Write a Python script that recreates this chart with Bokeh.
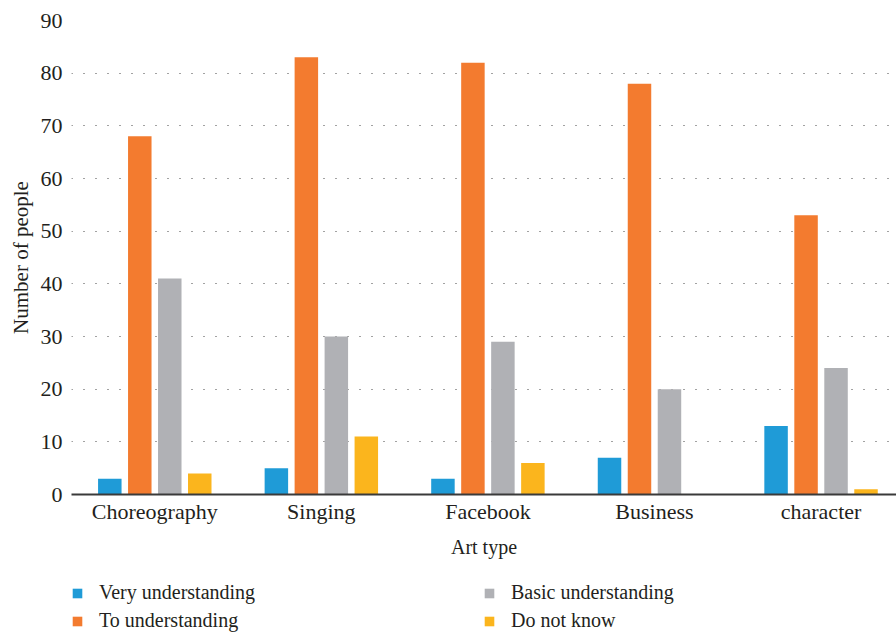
from bokeh.plotting import figure
from bokeh.layouts import column
from bokeh.models import Range1d, FixedTicker, Legend, LegendItem
from bokeh.embed import file_html
from bokeh.resources import INLINE

categories = ["Choreography", "Singing", "Facebook", "Business", "character"]
very_understanding = [3, 5, 3, 7, 13]
to_understanding = [68, 83, 82, 78, 53]
basic_understanding = [41, 30, 29, 20, 24]
do_not_know = [4, 11, 6, 0, 1]

series_names = ["Very understanding", "To understanding", "Basic understanding", "Do not know"]
series_values = [very_understanding, to_understanding, basic_understanding, do_not_know]
colors = ["#1f9bd7", "#f37b2f", "#b0b1b5", "#fbb51d"]
offsets = [-0.27, -0.09, 0.09, 0.27]

FONT = "Liberation Serif"
TXT = "#231f20"

p = figure(width=896, height=565, output_backend="svg", toolbar_location=None,
           x_range=Range1d(0, 4.953), y_range=Range1d(0, 90),
           min_border_left=71, min_border_right=0, min_border_top=20, min_border_bottom=71)
p.outline_line_color = None
p.background_fill_color = "white"

renderers = []
n = len(categories)
for name, vals, col, off in zip(series_names, series_values, colors, offsets):
    xs = [i + 0.5 + off for i in range(n)]
    r = p.vbar(x=xs, top=vals, width=0.141, bottom=0, fill_color=col, line_color=None)
    renderers.append(r)

# axes
p.xaxis.ticker = FixedTicker(ticks=[i + 0.5 for i in range(n)])
p.xaxis.major_label_overrides = {i + 0.5: c for i, c in enumerate(categories)}
p.xaxis.axis_label = "Art type"
p.xaxis.axis_line_color = "#3a3a3a"
p.xaxis.axis_line_width = 2
p.xaxis.major_tick_line_color = None
p.xaxis.minor_tick_line_color = None
p.xaxis.major_tick_out = 0
p.xaxis.major_tick_in = 0
p.xaxis.major_label_standoff = 4
p.xaxis.axis_label_standoff = 9

p.yaxis.ticker = FixedTicker(ticks=list(range(0, 91, 10)))
p.yaxis.axis_label = "Number of people"
p.yaxis.axis_line_color = None
p.yaxis.major_tick_line_color = None
p.yaxis.minor_tick_line_color = None
p.yaxis.major_tick_out = 0
p.yaxis.major_tick_in = 0
p.yaxis.major_label_standoff = 9
p.yaxis.axis_label_standoff = 5

for ax in (p.xaxis, p.yaxis):
    ax.major_label_text_font = FONT
    ax.major_label_text_font_size = "22px"
    ax.major_label_text_color = TXT
    ax.axis_label_text_font = FONT
    ax.axis_label_text_font_style = "normal"
    ax.axis_label_text_color = TXT
p.xaxis.axis_label_text_font_size = "20px"
p.yaxis.axis_label_text_font_size = "21px"

p.xgrid.grid_line_color = None
p.ygrid.grid_line_color = "#444444"
p.ygrid.grid_line_dash = "1 11"
p.ygrid.grid_line_width = 1

# legend panel below the chart
lp = figure(width=896, height=68, output_backend="svg", toolbar_location=None,
            x_range=Range1d(0, 1), y_range=Range1d(0, 1),
            x_axis_location=None, y_axis_location=None,
            min_border=0, min_border_left=0, min_border_right=0,
            min_border_top=0, min_border_bottom=0)
lp.outline_line_color = None
lp.xgrid.grid_line_color = None
lp.ygrid.grid_line_color = None

# off-screen proxy bars that only provide legend swatches
proxies = [lp.vbar(x=[-10], top=[0], width=0.1, fill_color=c, line_color=None) for c in colors]

def make_legend(idx, loc):
    its = [LegendItem(label=series_names[k], renderers=[proxies[k]]) for k in idx]
    return Legend(items=its, location=loc, orientation="vertical",
                  glyph_width=12, glyph_height=12, label_height=20, label_width=20,
                  spacing=5, padding=0, margin=0, label_standoff=16,
                  border_line_alpha=0, background_fill_alpha=0,
                  label_text_font=FONT, label_text_font_size="20px", label_text_color=TXT)

lp.add_layout(make_legend([0, 1], (0, 1)), "center")
lp.add_layout(make_legend([2, 3], (412, 1)), "center")

layout = column(p, lp, spacing=0)
open("out.html", "w").write(file_html(layout, INLINE))
